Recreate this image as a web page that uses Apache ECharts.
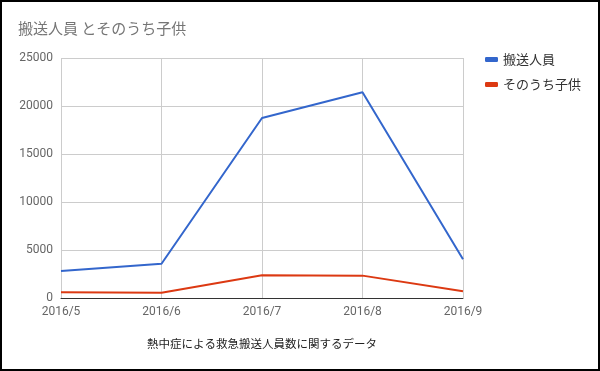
<!DOCTYPE html>
<html><head><meta charset="utf-8">
<script src="https://cdn.jsdelivr.net/npm/echarts@6/dist/echarts.min.js"></script>
<style>html,body{margin:0;padding:0;background:#fff}#c{width:600px;height:371px}</style>
</head><body><div id="c"></div>
<script>
const categories = ['2016/5','2016/6','2016/7','2016/8','2016/9'];
const transported = [2810, 3570, 18750, 21430, 4040];
const children = [600, 540, 2360, 2330, 700];
const seriesNames = ['搬送人員','そのうち子供'];
const yTicks = [0, 5000, 10000, 15000, 20000, 25000];

const chart = echarts.init(document.getElementById('c'));
chart.setOption({
  animation: false,
  title: {
    text: '搬送人員 とそのうち子供', left: 13, top: 16,
    textStyle: {fontFamily: 'Noto Sans CJK JP', fontSize: 15, fontWeight: 'normal', color: '#757575'}
  },
  legend: {
    orient: 'vertical', left: 480, top: 48, itemWidth: 13, itemHeight: 5, itemGap: 12,
    icon: 'roundRect',
    textStyle: {fontFamily: 'Noto Sans CJK JP', fontSize: 13, color: '#333'},
    data: seriesNames
  },
  grid: {left: 61, right: 137, top: 58, bottom: 73, containLabel: false},
  xAxis: {
    type: 'category', data: categories, boundaryGap: false,
    axisLine: {lineStyle: {color: '#333', width: 1}},
    axisTick: {show: false},
    axisLabel: {fontFamily: 'Roboto', fontSize: 12, color: '#666', margin: 8},
    splitLine: {show: true, lineStyle: {color: '#ccc'}}
  },
  yAxis: {
    type: 'value', min: yTicks[0], max: yTicks[yTicks.length-1], interval: 5000,
    axisLine: {show: false}, axisTick: {show: false},
    axisLabel: {fontFamily: 'Roboto', fontSize: 12, color: '#666', margin: 8, formatter: v => String(v)},
    splitLine: {lineStyle: {color: '#ccc'}}
  },
  series: [
    {name: seriesNames[0], type: 'line', data: transported, showSymbol: false, symbol: 'none',
     lineStyle: {width: 2, color: '#3366cc'}, itemStyle: {color: '#3366cc'}},
    {name: seriesNames[1], type: 'line', data: children, showSymbol: false, symbol: 'none',
     lineStyle: {width: 2, color: '#dc3912'}, itemStyle: {color: '#dc3912'}}
  ],
  graphic: [
    {type: 'text', left: 147, top: 338,
     style: {text: '熱中症による救急搬送人員数に関するデータ', fontFamily: 'Noto Sans CJK JP', fontSize: 11.5, fill: '#222'}},
    {type: 'rect', shape: {x: 1, y: 1, width: 598, height: 369}, style: {fill: 'none', stroke: '#000', lineWidth: 2}, silent: true}
  ]
});
</script></body></html>
